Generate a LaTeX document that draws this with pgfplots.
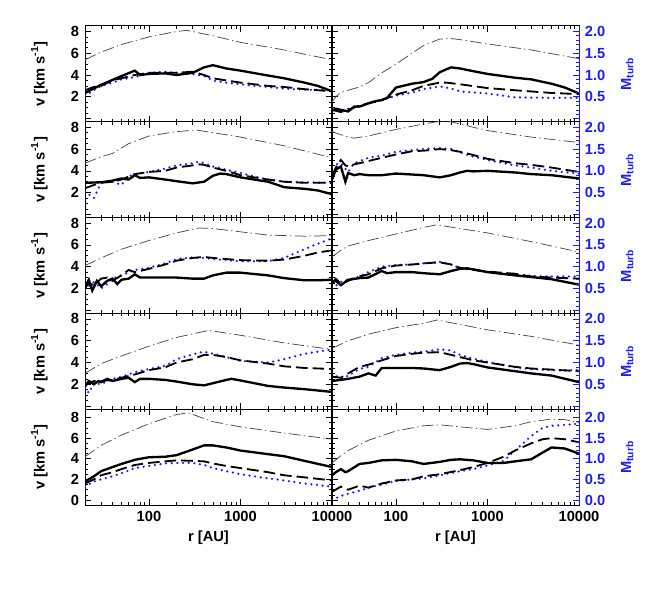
\documentclass[border=0pt]{standalone}
\usepackage{fontspec}
\setmainfont{Liberation Sans}
\usepackage{pgfplots}
\pgfplotsset{compat=1.18}
\definecolor{mblue}{RGB}{30,30,240}
\newcommand{\lblfont}{\bfseries\fontsize{8.8}{10}\selectfont}
\pgfplotsset{
  vpanel/.style={scale only axis, width=148.2pt, height=57.5pt,
    xmin=20, xmax=10000,
    ymin=-0.3, ymax=8.5, ytick={0,2,4,6,8}, yticklabels={,2,4,6,8}, minor y tick num=3,
    xtick={100,1000,10000}, xticklabels={},
    minor xtick={30,40,50,60,70,80,90,200,300,400,500,600,700,800,900,2000,3000,4000,5000,6000,7000,8000,9000},
    tick align=inside, major tick length=3.5pt, minor tick length=1.8pt,
    tick style={black, line width=0.4pt}, axis line style={line width=0.6pt},
    tick label style={font=\lblfont},
    label style={font=\lblfont}},
  vlastrow/.style={ymin=-0.5, ymax=8.8, yticklabels={0,2,4,6,8},
    xticklabels={100,1000,10000}, xlabel={r [AU]},
    xlabel style={yshift=1pt}},
  vleft/.style={ylabel={v [km s\textsuperscript{-1}]},
    ylabel style={at={(axis description cs:-0.185,0.5)}, anchor=center}},
  vright/.style={ytick pos=left, yticklabels={}},
  vmach/.style={scale only axis, width=148.2pt, height=57.5pt,
    xmin=20, xmax=10000, axis x line=none, axis y line*=right,
    ymin=-0.075, ymax=2.125, ytick={0,0.5,1,1.5,2}, yticklabels={,0.5,1.0,1.5,2.0},
    minor y tick num=4, tick align=inside, major tick length=3.5pt, minor tick length=1.8pt,
    y axis line style={mblue, line width=0.6pt}, ytick style={mblue, line width=0.4pt},
    yticklabel style={mblue, font=\lblfont},
    ylabel={M\textsubscript{turb}},
    ylabel style={mblue, font=\lblfont, at={(axis description cs:1.195,0.5)}, anchor=center}},
  vmachlast/.style={ymin=-0.125, ymax=2.2, yticklabels={0.0,0.5,1.0,1.5,2.0}},
  solidc/.style={black, line width=1.4pt},
  dashc/.style={black, line width=1.1pt, dash pattern=on 7pt off 3pt},
  dotc/.style={mblue, line width=1.5pt, line cap=round, dash pattern=on 0pt off 3.4pt},
  ddc/.style={black!70, line width=0.45pt, dash pattern=on 7pt off 2pt on 0.8pt off 2pt},
}
\begin{document}
\begin{tikzpicture}
\path[use as bounding box] (0,0) rectangle (398.4pt,-368.4pt);

% ---------- row 1 ----------
\begin{semilogxaxis}[vpanel, vleft, at={(51pt,-15.6pt)}, anchor=north west]
\addplot[ddc] coordinates {(20,5.4) (30,6.1) (50,6.8) (100,7.5) (200,8.0) (260,8.1) (500,7.6) (1000,7.0) (3000,6.3) (10000,5.4)};
\addplot[dotc] coordinates {(20,2.1) (25,2.6) (30,3.0) (40,3.3) (50,3.6) (70,3.8) (100,4.2) (150,4.3) (200,4.2) (300,4.1) (400,3.9) (500,3.5) (700,3.3) (1000,3.15) (2000,2.9) (3000,2.75) (5000,2.65) (10000,2.6)};
\addplot[dashc] coordinates {(20,2.6) (25,2.9) (30,3.0) (40,3.5) (50,3.7) (70,4.0) (100,4.2) (200,4.2) (300,4.3) (400,4.0) (500,3.7) (700,3.5) (1000,3.3) (2000,3.0) (3000,2.9) (5000,2.7) (10000,2.5)};
\addplot[solidc] coordinates {(20,2.35) (30,3.1) (50,3.9) (70,4.4) (80,4.0) (100,4.1) (150,4.15) (200,4.0) (300,4.2) (400,4.7) (500,4.9) (700,4.6) (1000,4.4) (2000,3.95) (3000,3.7) (5000,3.3) (7000,3.0) (10000,2.5)};
\end{semilogxaxis}
\begin{semilogxaxis}[vpanel, vright, at={(199.2pt,-15.6pt)}, anchor=north west]
\addplot[ddc] coordinates {(20,1.5) (22,2.0) (25,2.4) (30,2.6) (40,2.9) (50,3.3) (70,4.2) (100,5.0) (150,6.0) (200,6.7) (300,7.3) (400,7.35) (500,7.25) (1000,6.85) (3000,6.3) (10000,5.5)};
\addplot[dotc] coordinates {(20,1.0) (25,0.7) (30,0.9) (40,1.1) (50,1.4) (70,1.7) (100,2.1) (150,2.4) (200,2.7) (300,2.95) (350,2.85) (400,2.75) (500,2.5) (700,2.4) (1000,2.3) (2000,1.95) (5000,1.9) (10000,1.9)};
\addplot[dashc] coordinates {(20,0.8) (25,0.6) (30,0.8) (40,1.2) (50,1.4) (70,1.7) (100,2.2) (150,2.6) (200,3.0) (300,3.3) (350,3.3) (400,3.25) (500,3.15) (1000,2.8) (2000,2.6) (5000,2.35) (10000,2.25)};
\addplot[solidc] coordinates {(20,0.73) (22,0.9) (25,0.8) (30,0.65) (35,1.1) (40,1.1) (50,1.4) (60,1.6) (70,1.7) (80,1.9) (100,2.85) (150,3.2) (200,3.35) (250,3.65) (300,4.25) (350,4.5) (400,4.7) (500,4.6) (700,4.35) (1000,4.1) (2000,3.75) (3000,3.6) (5000,3.2) (7000,2.85) (10000,2.3)};
\end{semilogxaxis}
\begin{semilogxaxis}[vmach, at={(199.2pt,-15.6pt)}, anchor=north west]
\end{semilogxaxis}

% ---------- row 2 ----------
\begin{semilogxaxis}[vpanel, vleft, at={(51pt,-73.1pt)}, anchor=north west]
\addplot[ddc] coordinates {(20,4.7) (30,5.3) (40,5.6) (60,6.5) (100,7.2) (200,7.6) (330,7.75) (1000,7.1) (3000,6.3) (10000,5.2)};
\addplot[dotc] coordinates {(20,2.1) (25,1.5) (30,2.9) (40,3.0) (50,2.7) (60,3.5) (70,3.7) (100,3.9) (150,4.2) (200,4.5) (300,4.7) (350,4.85) (400,4.7) (500,4.4) (700,4.1) (1000,3.8) (2000,3.2) (3000,3.0) (5000,2.95) (10000,2.9)};
\addplot[dashc] coordinates {(20,2.4) (25,2.7) (30,2.9) (40,3.0) (50,3.2) (70,3.7) (100,3.9) (150,4.0) (200,4.3) (300,4.5) (350,4.6) (400,4.55) (500,4.3) (700,4.0) (1000,3.6) (2000,3.2) (3000,3.0) (5000,2.9) (10000,2.9)};
\addplot[solidc] coordinates {(20,2.9) (30,2.95) (40,3.1) (50,3.3) (60,3.2) (70,3.6) (80,3.35) (100,3.4) (150,3.2) (200,3.05) (300,2.85) (400,3.0) (500,3.55) (600,3.75) (700,3.7) (1000,3.4) (2000,3.0) (3000,2.5) (5000,2.35) (7000,2.2) (10000,1.85)};
\end{semilogxaxis}
\begin{semilogxaxis}[vpanel, vright, at={(199.2pt,-73.1pt)}, anchor=north west]
\addplot[ddc] coordinates {(20,7.6) (30,7.1) (35,7.0) (50,7.2) (100,7.8) (200,8.3) (300,8.55) (400,8.5) (700,8.0) (1000,7.7) (3000,7.1) (10000,6.6)};
\addplot[dotc] coordinates {(20,4.4) (22,4.6) (25,4.7) (30,3.9) (35,4.7) (40,4.9) (50,5.2) (70,5.4) (100,5.75) (150,5.9) (200,6.0) (300,6.1) (400,6.0) (500,5.7) (700,5.3) (1000,5.0) (2000,4.5) (3000,4.3) (5000,4.0) (10000,3.75)};
\addplot[dashc] coordinates {(20,3.5) (22,4.3) (25,5.0) (28,4.5) (30,4.4) (35,4.6) (40,4.7) (50,4.9) (70,5.2) (100,5.5) (150,5.8) (200,5.85) (300,6.0) (400,5.9) (500,5.75) (700,5.45) (1000,5.1) (2000,4.7) (3000,4.55) (5000,4.3) (10000,3.9)};
\addplot[solidc] coordinates {(20,3.2) (22,4.1) (25,4.4) (28,3.0) (30,3.8) (35,3.6) (40,3.7) (50,3.6) (70,3.6) (100,3.75) (200,3.6) (300,3.4) (350,3.5) (400,3.6) (500,3.85) (600,4.0) (700,3.95) (1000,4.0) (2000,3.85) (3000,3.7) (5000,3.6) (10000,3.3)};
\end{semilogxaxis}
\begin{semilogxaxis}[vmach, at={(199.2pt,-73.1pt)}, anchor=north west]
\end{semilogxaxis}

% ---------- row 3 ----------
\begin{semilogxaxis}[vpanel, vleft, at={(51pt,-130.6pt)}, anchor=north west]
\addplot[ddc] coordinates {(20,4.1) (30,4.8) (50,5.6) (100,6.4) (200,7.1) (350,7.55) (500,7.5) (1000,7.2) (2000,6.9) (5000,6.8) (10000,6.85)};
\addplot[dotc] coordinates {(20,1.9) (25,2.6) (30,2.0) (35,2.4) (40,2.9) (50,3.2) (70,3.7) (100,3.9) (150,4.3) (200,4.7) (300,4.85) (400,4.8) (500,4.7) (700,4.6) (1000,4.5) (2000,4.5) (3000,4.8) (5000,5.6) (7000,6.1) (10000,6.6)};
\addplot[dashc] coordinates {(20,2.0) (22,2.5) (25,2.3) (30,2.9) (35,3.0) (40,2.7) (50,3.2) (60,3.7) (70,3.5) (100,3.8) (150,4.2) (200,4.55) (300,4.8) (400,4.9) (500,4.8) (700,4.7) (1000,4.6) (2000,4.55) (3000,4.65) (5000,5.0) (7000,5.3) (10000,5.5)};
\addplot[solidc] coordinates {(20,2.1) (22,2.8) (24,1.8) (27,2.7) (30,2.2) (35,2.7) (40,2.9) (45,2.4) (50,2.8) (60,2.9) (70,3.3) (80,3.0) (100,3.0) (150,3.0) (200,3.0) (300,2.9) (400,2.9) (500,3.2) (700,3.45) (1000,3.45) (2000,3.2) (3000,2.95) (5000,2.75) (7000,2.75) (10000,2.8)};
\end{semilogxaxis}
\begin{semilogxaxis}[vpanel, vright, at={(199.2pt,-130.6pt)}, anchor=north west]
\addplot[ddc] coordinates {(20,4.9) (25,5.5) (30,5.9) (50,6.4) (100,7.0) (200,7.6) (280,7.85) (500,7.5) (1000,7.1) (3000,6.3) (10000,5.35)};
\addplot[dotc] coordinates {(20,2.0) (25,2.6) (30,2.8) (40,3.1) (50,3.5) (70,4.0) (100,4.15) (150,4.2) (200,4.3) (300,4.45) (400,4.2) (500,3.85) (700,3.7) (1000,3.55) (2000,3.3) (3000,3.15) (5000,3.1) (10000,3.1)};
\addplot[dashc] coordinates {(20,2.5) (22,2.9) (25,2.4) (30,2.7) (40,3.1) (50,3.3) (70,3.85) (100,4.1) (150,4.2) (200,4.3) (300,4.4) (400,4.2) (500,3.9) (700,3.7) (1000,3.55) (2000,3.35) (3000,3.1) (5000,3.0) (10000,2.9)};
\addplot[solidc] coordinates {(20,2.55) (22,2.7) (25,2.3) (30,2.8) (40,2.95) (50,3.0) (70,3.6) (80,3.4) (100,3.5) (150,3.5) (200,3.4) (300,3.3) (400,3.6) (500,3.8) (600,3.85) (700,3.75) (1000,3.5) (2000,3.2) (3000,3.05) (5000,2.85) (10000,2.35)};
\end{semilogxaxis}
\begin{semilogxaxis}[vmach, at={(199.2pt,-130.6pt)}, anchor=north west]
\end{semilogxaxis}

% ---------- row 4 ----------
\begin{semilogxaxis}[vpanel, vleft, at={(51pt,-188.1pt)}, anchor=north west]
\addplot[ddc] coordinates {(20,3.0) (30,3.9) (50,4.6) (100,5.5) (200,6.3) (450,6.95) (1000,6.5) (3000,5.8) (10000,5.2)};
\addplot[dotc] coordinates {(20,1.7) (22,1.2) (25,2.1) (30,2.0) (40,2.5) (50,2.7) (70,3.1) (100,3.4) (150,3.7) (200,4.3) (300,4.75) (400,5.0) (500,4.8) (700,4.5) (1000,4.15) (2000,4.0) (3000,4.3) (5000,4.8) (10000,5.2)};
\addplot[dashc] coordinates {(20,1.9) (25,2.3) (30,2.3) (40,2.4) (50,2.6) (70,2.9) (100,3.3) (150,3.55) (200,4.0) (300,4.3) (400,4.7) (500,4.7) (700,4.5) (1000,4.2) (2000,3.9) (3000,3.65) (5000,3.5) (10000,3.4)};
\addplot[solidc] coordinates {(20,1.8) (22,2.3) (25,2.0) (28,2.3) (30,2.2) (35,2.5) (40,2.3) (50,2.5) (60,2.6) (70,2.2) (80,2.5) (100,2.5) (150,2.4) (200,2.25) (300,2.0) (400,1.9) (500,2.1) (700,2.4) (800,2.5) (1000,2.35) (2000,1.85) (3000,1.7) (5000,1.55) (10000,1.3)};
\end{semilogxaxis}
\begin{semilogxaxis}[vpanel, vright, at={(199.2pt,-188.1pt)}, anchor=north west]
\addplot[ddc] coordinates {(20,5.3) (30,6.0) (50,6.6) (100,7.2) (200,7.6) (280,7.9) (500,7.5) (1000,7.0) (3000,6.4) (10000,5.6)};
\addplot[dotc] coordinates {(20,3.0) (25,2.5) (30,2.8) (40,3.4) (50,3.6) (70,4.4) (100,4.7) (150,4.9) (200,5.0) (300,5.2) (400,5.1) (500,4.7) (700,4.35) (1000,4.05) (2000,3.55) (3000,3.4) (5000,3.3) (10000,3.3)};
\addplot[dashc] coordinates {(20,2.7) (25,2.6) (30,3.0) (40,3.6) (50,3.8) (70,4.2) (100,4.6) (150,4.8) (200,4.9) (300,4.95) (400,4.7) (500,4.5) (700,4.2) (1000,4.0) (2000,3.6) (3000,3.45) (5000,3.35) (10000,3.2)};
\addplot[solidc] coordinates {(20,2.3) (30,2.5) (40,2.7) (50,3.0) (60,2.8) (70,3.5) (100,3.5) (150,3.5) (200,3.45) (300,3.3) (400,3.6) (500,3.9) (600,3.95) (700,3.85) (1000,3.55) (2000,3.2) (3000,3.0) (5000,2.8) (10000,2.2)};
\end{semilogxaxis}
\begin{semilogxaxis}[vmach, at={(199.2pt,-188.1pt)}, anchor=north west]
\end{semilogxaxis}

% ---------- row 5 ----------
\begin{semilogxaxis}[vpanel, vleft, vlastrow, at={(51pt,-245.6pt)}, anchor=north west]
\addplot[ddc] coordinates {(20,4.2) (30,5.3) (50,6.3) (100,7.4) (200,8.3) (270,8.45) (500,7.6) (1000,7.1) (3000,6.5) (10000,5.9)};
\addplot[dotc] coordinates {(20,1.3) (25,1.8) (30,2.0) (40,2.3) (50,2.6) (70,3.1) (100,3.3) (150,3.55) (200,3.6) (300,3.6) (400,3.4) (500,3.1) (700,2.8) (1000,2.5) (2000,2.1) (3000,1.9) (5000,1.6) (10000,1.3)};
\addplot[dashc] coordinates {(20,1.6) (25,2.0) (30,2.4) (40,2.7) (50,3.0) (70,3.4) (100,3.6) (150,3.75) (200,3.85) (300,3.8) (400,3.75) (500,3.55) (700,3.3) (1000,3.1) (2000,2.7) (3000,2.4) (5000,2.2) (10000,1.9)};
\addplot[solidc] coordinates {(20,1.8) (25,2.3) (30,2.8) (40,3.2) (50,3.5) (70,3.9) (100,4.15) (150,4.2) (200,4.35) (300,4.9) (400,5.3) (500,5.3) (700,5.1) (1000,4.8) (2000,4.45) (3000,4.25) (5000,3.8) (10000,3.2)};
\end{semilogxaxis}
\begin{semilogxaxis}[vpanel, vright, vlastrow, yticklabels={}, at={(199.2pt,-245.6pt)}, anchor=north west]
\addplot[ddc] coordinates {(20,3.6) (25,4.3) (30,4.8) (50,5.8) (100,6.7) (200,7.2) (300,7.3) (500,7.1) (1000,6.85) (2000,7.2) (3000,7.6) (5000,7.85) (7000,7.8) (10000,7.5)};
\addplot[dotc] coordinates {(20,0.0) (25,0.4) (30,0.6) (40,0.9) (50,1.2) (70,1.5) (100,1.85) (150,2.0) (200,2.1) (300,2.4) (500,2.8) (700,3.0) (1000,3.35) (1500,3.8) (2000,4.8) (3000,6.2) (4000,7.0) (5000,7.2) (7000,7.3) (10000,7.4)};
\addplot[dashc] coordinates {(20,0.8) (25,1.3) (30,1.0) (40,1.4) (50,1.2) (70,1.6) (100,1.9) (150,2.0) (200,2.3) (300,2.5) (500,2.9) (700,3.2) (1000,3.6) (1500,4.2) (2000,4.8) (3000,5.5) (4000,5.9) (5000,6.0) (7000,5.9) (10000,5.6)};
\addplot[solidc] coordinates {(20,2.4) (22,2.7) (25,3.0) (28,2.7) (30,2.8) (40,3.5) (50,3.6) (70,3.85) (100,3.9) (150,3.75) (200,3.5) (300,3.7) (400,3.9) (500,3.95) (700,3.85) (1000,3.6) (1500,3.6) (2000,3.75) (3000,3.95) (4000,4.6) (5000,5.1) (7000,5.0) (10000,4.5)};
\end{semilogxaxis}
\begin{semilogxaxis}[vmach, vmachlast, at={(199.2pt,-245.6pt)}, anchor=north west]
\end{semilogxaxis}
\end{tikzpicture}
\end{document}
